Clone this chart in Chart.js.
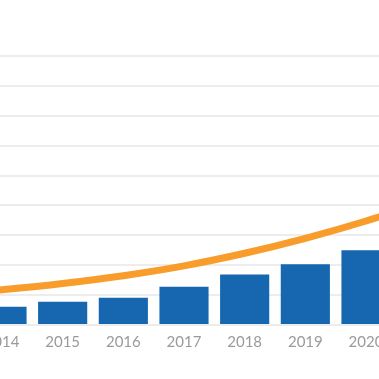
<!DOCTYPE html>
<html>
<head>
<meta charset="utf-8">
<script src="https://cdn.jsdelivr.net/npm/chart.js@4"></script>
<style>
    html, body { margin: 0; padding: 0; background: #fff; }
    #wrap { position: relative; width: 379px; height: 379px; overflow: hidden; }
    #box { position: absolute; left: -89px; top: 0; width: 546px; height: 379px; }
</style>
</head>
<body>
<div id="wrap"><div id="box"><canvas id="chartGrowth"></canvas></div></div>
<script>
/* --------------------------------------------
   Datos (2013 y 2021 quedan fuera del recorte)
-------------------------------------------- */
const years = ["2013", "2014", "2015", "2016", "2017", "2018", "2019", "2020", "2021"];
const barValues = [null, 6.1, 7.8, 9.1, 12.8, 16.9, 20.3, 25.0, null];
const trendValues = [10.0, 11.8, 13.9, 16.5, 19.8, 24.0, 29.0, 34.8, 41.5];

const ctx = document.getElementById("chartGrowth");
new Chart(ctx, {
    data: {
        labels: years,
        datasets: [
            {
                type: "line",
                data: trendValues,
                borderColor: "#f89d2c",
                borderWidth: 7,
                pointRadius: 0,
                cubicInterpolationMode: "monotone",
                fill: false
            },
            {
                type: "bar",
                data: barValues,
                backgroundColor: "#1666b0",
                barPercentage: 0.81,
                categoryPercentage: 1
            }
        ]
    },
    options: {
        responsive: true,
        maintainAspectRatio: false,
        animation: false,
        devicePixelRatio: 1,
        layout: { padding: { top: 56, left: 0, right: 0, bottom: 28 } },
        plugins: { legend: { display: false }, tooltip: { enabled: false } },
        scales: {
            x: {
                grid: { display: false },
                border: { display: false },
                ticks: {
                    color: "#9a9a9a",
                    font: { family: "Lato", size: 15 },
                    padding: 0,
                    maxRotation: 0,
                    autoSkip: false
                }
            },
            y: {
                display: true,
                min: 0,
                max: 90,
                grid: { color: "#ededed", lineWidth: 2, drawTicks: false },
                border: { display: false },
                ticks: { display: false, stepSize: 10 }
            }
        }
    }
});
</script>
</body>
</html>
